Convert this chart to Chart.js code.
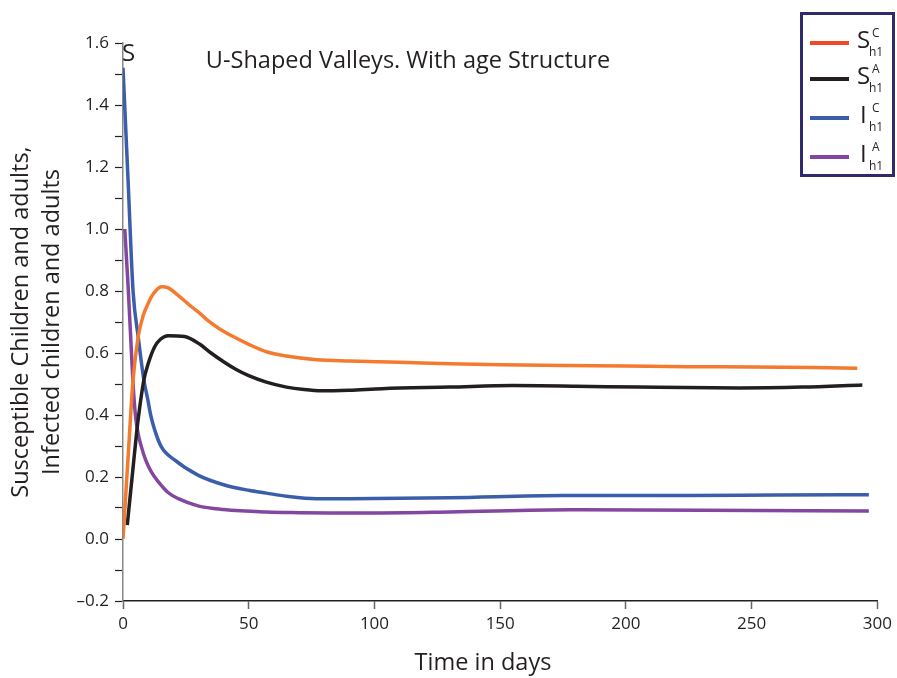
<!DOCTYPE html>
<html>
<head>
<meta charset="utf-8">
<script src="https://cdn.jsdelivr.net/npm/chart.js@4.4.1/dist/chart.umd.min.js"></script>
<style>
  html, body { margin: 0; padding: 0; background: #fff; }
  #wrap { width: 897px; height: 678px; position: relative; }
</style>
</head>
<body>
<div id="wrap"><canvas id="ageChart"></canvas></div>
<script>
// susceptible children S_h1^C
const timeSC = [0, 2, 4, 6, 8, 10, 12, 15.2, 18, 21.8, 27.1, 30.6, 33.7, 38, 43.8, 50, 57, 65, 77, 90, 110, 130, 150, 175, 200, 225, 250, 275, 292];
const valSC  = [0, 0.26, 0.513, 0.65, 0.72, 0.76, 0.79, 0.814, 0.81, 0.787, 0.75, 0.728, 0.705, 0.68, 0.653, 0.628, 0.604, 0.59, 0.578, 0.574, 0.57, 0.565, 0.562, 0.56, 0.558, 0.556, 0.555, 0.553, 0.551];

// susceptible adults S_h1^A
const timeSA = [1.7, 3, 4, 5, 6, 8.3, 10, 12.6, 15, 17.9, 24.5, 30.6, 35, 40, 45, 50, 57, 65, 72, 79, 90, 103, 130, 155, 180, 205, 245, 270, 294];
const valSA  = [0.045, 0.15, 0.23, 0.31, 0.384, 0.513, 0.565, 0.62, 0.645, 0.656, 0.653, 0.628, 0.6, 0.572, 0.547, 0.527, 0.506, 0.49, 0.482, 0.478, 0.48, 0.485, 0.49, 0.495, 0.493, 0.49, 0.487, 0.49, 0.497];

// infected children I_h1^C
const timeIC = [0, 2, 4, 6, 8.3, 9.9, 11, 12.6, 15.2, 20.5, 29.8, 40, 50, 57, 65, 77, 90, 130, 175, 225, 260, 296.6];
const valIC  = [1.52, 1.16, 0.8, 0.655, 0.513, 0.448, 0.4, 0.352, 0.298, 0.255, 0.206, 0.175, 0.157, 0.148, 0.138, 0.13, 0.13, 0.133, 0.14, 0.14, 0.142, 0.143];

// infected adults I_h1^A
const timeIA = [0.7, 2, 3, 4, 5, 6, 7.3, 9, 11.2, 14, 17.9, 22, 29.8, 40, 57, 70, 83, 100, 130, 178, 230, 296.6];
const valIA  = [1.0, 0.82, 0.66, 0.5, 0.395, 0.34, 0.298, 0.255, 0.217, 0.185, 0.15, 0.13, 0.107, 0.095, 0.087, 0.085, 0.084, 0.084, 0.087, 0.094, 0.093, 0.09];

const seriesNames = ['S', 'S', 'I', 'I'];
const seriesSup = ['C', 'A', 'C', 'A'];
const seriesSub = 'h1';
const titleText = 'U-Shaped Valleys. With age Structure';
const xTitle = 'Time in days';
const yTitle = ['Susceptible Children and adults,', 'Infected children and adults'];

const textColor = '#231f20';
const lineColors = ['#f47a30', '#231f20', '#3b5eab', '#8347a0'];
const legendColors = ['#ee4a2a', '#231f20', '#3b5eab', '#8347a0'];

const toPoints = (ts, vs) => ts.map((t, i) => ({ x: t, y: vs[i] }));

const makeSet = (ts, vs, i) => ({
  label: seriesNames[i] + seriesSup[i],
  data: toPoints(ts, vs),
  borderColor: lineColors[i],
  borderWidth: 3.5,
  pointRadius: 0,
  tension: 0.4,
  cubicInterpolationMode: 'monotone',
  fill: false,
});

const extraText = {
  id: 'extraText',
  afterDraw(chart) {
    const ctx = chart.ctx;
    ctx.save();
    ctx.fillStyle = textColor;
    ctx.textBaseline = 'middle';

    // little S next to the top tick
    ctx.font = '24px "Open Sans"';
    ctx.textAlign = 'left';
    ctx.fillText('S', 122, 54);

    // title
    ctx.textAlign = 'center';
    ctx.font = '23.5px "Open Sans"';
    ctx.fillText(titleText, 408, 61);

    // x title
    ctx.fillText(xTitle, 483, 663);

    // legend box
    ctx.strokeStyle = '#2e2a6b';
    ctx.lineWidth = 3;
    ctx.strokeRect(801.5, 13.5, 92, 162);

    const rows = [43, 79, 118, 157];
    rows.forEach((y, i) => {
      ctx.strokeStyle = legendColors[i];
      ctx.lineWidth = 4;
      ctx.beginPath();
      ctx.moveTo(810, y);
      ctx.lineTo(849, y);
      ctx.stroke();

      ctx.fillStyle = textColor;
      ctx.textAlign = 'left';
      ctx.textBaseline = 'alphabetic';
      ctx.font = '24px "Open Sans"';
      const bx = seriesNames[i] === 'S' ? 857 : 860;
      ctx.fillText(seriesNames[i], bx, y + 5);
      ctx.font = '12px "Open Sans"';
      ctx.fillText(seriesSup[i], 872, y - 6);
      ctx.fillText(seriesSub, 869, y + 13);
    });
    ctx.restore();
  }
};

new Chart(document.getElementById('ageChart'), {
  type: 'line',
  data: {
    datasets: [
      makeSet(timeSC, valSC, 0),
      makeSet(timeSA, valSA, 1),
      makeSet(timeIC, valIC, 2),
      makeSet(timeIA, valIA, 3),
    ]
  },
  plugins: [extraText],
  options: {
    responsive: true,
    maintainAspectRatio: false,
    animation: false,
    layout: {
      padding: { top: 43, right: 16, left: 0, bottom: 0 }
    },
    scales: {
      x: {
        type: 'linear',
        min: 0,
        max: 300,
        afterFit: (scale) => { scale.height = 77; },
        border: { color: textColor, width: 1.5 },
        grid: {
          drawOnChartArea: false,
          tickLength: 8,
          tickColor: '#666',
          tickWidth: 1.5,
        },
        ticks: {
          stepSize: 50,
          padding: 5,
          color: textColor,
          maxRotation: 0,
          font: { family: 'Open Sans', size: 17 },
        },
      },
      y: {
        min: -0.2,
        max: 1.6,
        afterFit: (scale) => { scale.width = 123; },
        border: { color: '#888', width: 1.5 },
        grid: {
          drawOnChartArea: false,
          tickLength: 8,
          tickColor: textColor,
          tickWidth: 1.2,
        },
        ticks: {
          stepSize: 0.1,
          padding: 6,
          color: textColor,
          font: { family: 'Open Sans', size: 17 },
          callback: (value) => {
            const n = Math.round(value * 10);
            if (n % 2 !== 0) {
              return '';
            }
            const s = Math.abs(n / 10).toFixed(1);
            return n < 0 ? '\u2013' + s : s;
          }
        },
        title: {
          display: true,
          text: yTitle,
          color: textColor,
          font: { family: 'Open Sans', size: 23.5, lineHeight: 1.3 },
          padding: { top: 6, bottom: 0 },
        },
      },
    },
    plugins: {
      legend: { display: false },
      tooltip: { enabled: false },
    }
  }
});
</script>
</body>
</html>
